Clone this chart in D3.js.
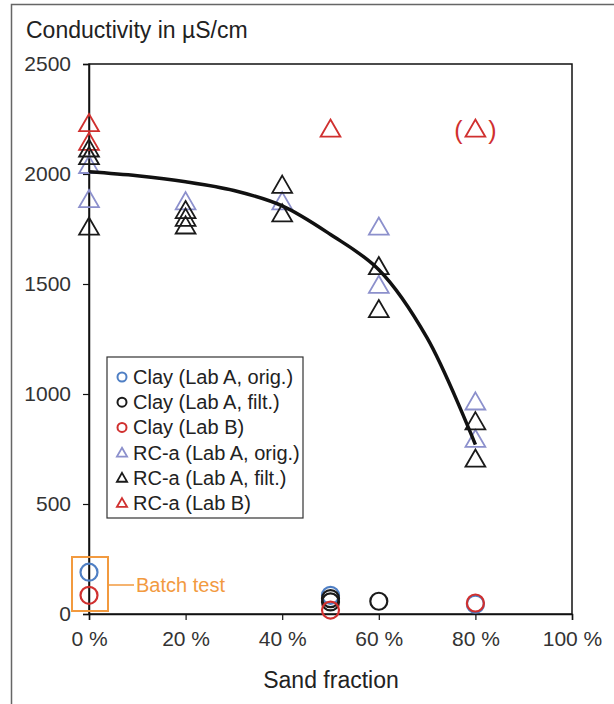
<!DOCTYPE html>
<html>
<head>
<meta charset="utf-8">
<script src="https://cdn.jsdelivr.net/npm/d3@7"></script>
<style>
  body { margin: 0; background: #fff; }
  svg { font-family: "Liberation Sans", Arial, sans-serif; }
</style>
</head>
<body>
<div id="chart"></div>
<script>
// Sand fraction (%) and conductivity (µS/cm) per series.
var clayOrigX = [0, 50, 80],
    clayOrigY = [190, 85, 45],
    clayFiltX = [50, 50, 60],
    clayFiltY = [70, 55, 58],
    clayLabBX = [0, 50, 80],
    clayLabBY = [85, 18, 50],
    rcOrigX = [0, 0, 20, 40, 60, 60, 80, 80],
    rcOrigY = [2035, 1880, 1870, 1870, 1755, 1490, 960, 790],
    rcFiltX = [0, 0, 0, 20, 20, 20, 40, 40, 60, 60, 80, 80],
    rcFiltY = [2110, 2075, 1755, 1830, 1795, 1760, 1945, 1815, 1575, 1380, 870, 700],
    rcLabBX = [0, 0, 50],
    rcLabBY = [2225, 2140, 2200],
    // questionable value, shown in brackets
    rcLabBBracketX = [80],
    rcLabBBracketY = [2200];

// Trend curve.
var trendX = [0, 10, 20, 30, 40, 50, 60, 70, 80],
    trendY = [2010, 1992, 1965, 1925, 1855, 1725, 1565, 1255, 770];

var xTicks = [0, 20, 40, 60, 80, 100],
    yTicks = [0, 500, 1000, 1500, 2000, 2500];

var legendLabels = ['Clay (Lab A, orig.)', 'Clay (Lab A, filt.)', 'Clay (Lab B)',
    'RC-a (Lab A, orig.)', 'RC-a (Lab A, filt.)', 'RC-a (Lab B)'];

var width = 614,
    height = 704;

var color_blue = '#4f7fc4',
    color_lavender = '#8c90cc',
    color_black = '#1a1a1a',
    color_red = '#d0302f',
    color_orange = '#f29a3f';

var svg = d3.select('#chart').append('svg')
    .attr('width', width)
    .attr('height', height);

// Outer frame of the figure (runs off the right and bottom edge).
svg.append('rect')
    .attr('x', 11.5).attr('y', 4.5)
    .attr('width', 700).attr('height', 800)
    .attr('fill', 'none')
    .attr('stroke', '#666')
    .attr('stroke-width', 1.5);

var x = d3.scaleLinear().domain([0, 100]).range([89, 572]);
var y = d3.scaleLinear().domain([0, 2500]).range([614, 64]);

// Plot box.
svg.append('rect')
    .attr('x', x(0)).attr('y', y(2500))
    .attr('width', x(100) - x(0)).attr('height', y(0) - y(2500))
    .attr('fill', 'none')
    .attr('stroke', '#111')
    .attr('stroke-width', 1.5);

var xAxis = svg.append('g')
    .attr('transform', 'translate(0,' + y(0) + ')')
    .call(d3.axisBottom(x).tickValues(xTicks).tickSize(6).tickPadding(11)
        .tickFormat(function (d) { return d + ' %'; }));

var yAxis = svg.append('g')
    .attr('transform', 'translate(' + x(0) + ',0)')
    .call(d3.axisLeft(y).tickValues(yTicks).tickSize(6).tickPadding(12)
        .tickFormat(d3.format('d')));

[xAxis, yAxis].forEach(function (g) {
    g.select('.domain').attr('stroke', '#111').attr('stroke-width', 1.5);
    g.selectAll('.tick line').attr('stroke', '#111').attr('stroke-width', 1.2);
    g.selectAll('.tick text')
        .attr('fill', '#333')
        .attr('font-size', '21px')
        .attr('font-family', '"Liberation Sans", Arial, sans-serif');
});

svg.append('text')
    .attr('x', 26).attr('y', 38)
    .attr('font-size', '23px')
    .attr('fill', '#222')
    .text('Conductivity in µS/cm');

svg.append('text')
    .attr('x', 331).attr('y', 688)
    .attr('text-anchor', 'middle')
    .attr('font-size', '23px')
    .attr('fill', '#222')
    .text('Sand fraction');

var tri = d3.symbol().type(d3.symbolTriangle);

function drawCircles(xs, ys, color) {
    svg.append('g').selectAll('circle')
        .data(xs.map(function (d, i) { return [d, ys[i]]; }))
        .enter().append('circle')
        .attr('cx', function (d) { return x(d[0]); })
        .attr('cy', function (d) { return y(d[1]); })
        .attr('r', 8.5)
        .attr('fill', 'none')
        .attr('stroke', color)
        .attr('stroke-width', 2.2);
}

function drawTriangles(xs, ys, color) {
    svg.append('g').selectAll('path')
        .data(xs.map(function (d, i) { return [d, ys[i]]; }))
        .enter().append('path')
        .attr('d', tri.size(170))
        .attr('transform', function (d) {
            return 'translate(' + x(d[0]) + ',' + (y(d[1]) + 1) + ')';
        })
        .attr('fill', 'none')
        .attr('stroke', color)
        .attr('stroke-width', 1.8);
}

// Batch test box around the 0 % clay points.
svg.append('rect')
    .attr('x', 72).attr('y', 557)
    .attr('width', 36).attr('height', 54)
    .attr('fill', 'none')
    .attr('stroke', color_orange)
    .attr('stroke-width', 2);
svg.append('line')
    .attr('x1', 108).attr('x2', 134)
    .attr('y1', 585).attr('y2', 585)
    .attr('stroke', color_orange)
    .attr('stroke-width', 1.5);
svg.append('text')
    .attr('x', 136).attr('y', 592)
    .attr('font-size', '20px')
    .attr('fill', color_orange)
    .text('Batch test');

drawTriangles(rcOrigX, rcOrigY, color_lavender);
drawTriangles(rcLabBX, rcLabBY, color_red);
drawTriangles(rcFiltX, rcFiltY, color_black);
drawTriangles(rcLabBBracketX, rcLabBBracketY, color_red);
drawCircles(clayOrigX, clayOrigY, color_blue);
drawCircles(clayFiltX, clayFiltY, color_black);
drawCircles(clayLabBX, clayLabBY, color_red);

// Brackets round the questionable point.
rcLabBBracketX.forEach(function (d, i) {
    var cx = x(d), cy = y(rcLabBBracketY[i]);
    [-1, 1].forEach(function (side) {
        svg.append('text')
            .attr('x', cx + side * 17).attr('y', cy + 9)
            .attr('text-anchor', 'middle')
            .attr('font-size', '25px')
            .attr('fill', color_red)
            .text(side < 0 ? '(' : ')');
    });
});

// Trend curve on top of the points.
var line = d3.line()
    .x(function (d) { return x(d[0]); })
    .y(function (d) { return y(d[1]); })
    .curve(d3.curveCatmullRom);

svg.append('path')
    .datum(trendX.map(function (d, i) { return [d, trendY[i]]; }))
    .attr('d', line)
    .attr('fill', 'none')
    .attr('stroke', '#111')
    .attr('stroke-width', 3.5);

// Legend.
var legend = svg.append('g').attr('transform', 'translate(107,357)');
legend.append('rect')
    .attr('width', 196).attr('height', 161)
    .attr('fill', '#fff')
    .attr('stroke', '#333')
    .attr('stroke-width', 1.2);

var legendColors = [color_blue, color_black, color_red, color_lavender, color_black, color_red];

legendLabels.forEach(function (label, i) {
    var row = legend.append('g').attr('transform', 'translate(15,' + (20 + i * 25.2) + ')');
    if (i < 3) {
        row.append('circle').attr('r', 4.5)
            .attr('fill', 'none')
            .attr('stroke', legendColors[i])
            .attr('stroke-width', 2);
    } else {
        row.append('path').attr('d', tri.size(45))
            .attr('transform', 'translate(0,1)')
            .attr('fill', 'none')
            .attr('stroke', legendColors[i])
            .attr('stroke-width', 1.8);
    }
    row.append('text')
        .attr('x', 11).attr('y', 7)
        .attr('font-size', '20px')
        .attr('fill', '#222')
        .text(label);
});
</script>
</body>
</html>
